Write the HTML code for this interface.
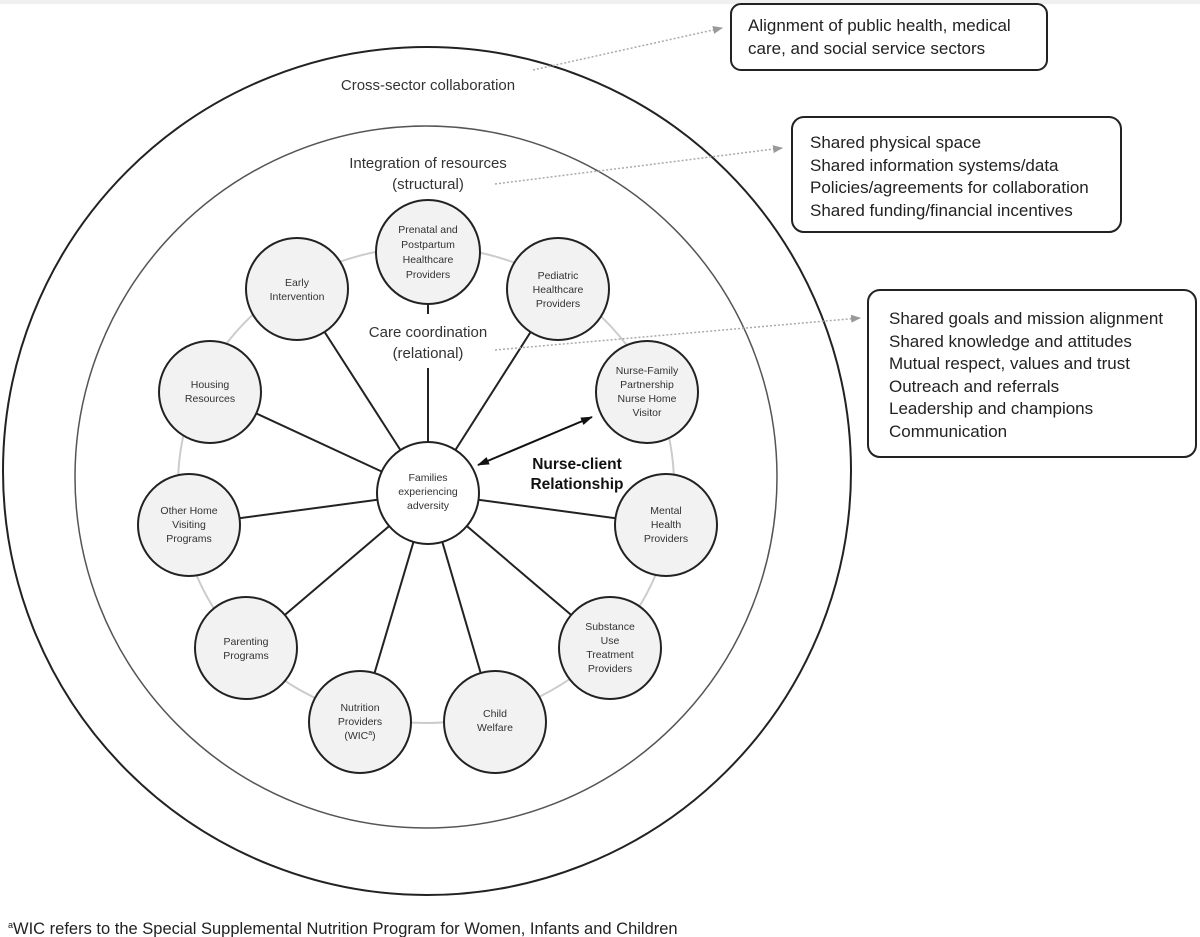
<!DOCTYPE html>
<html><head><meta charset="utf-8"><style>
html,body{margin:0;padding:0;background:#fff;}
svg{display:block}
.n{font-family:"Liberation Sans",sans-serif;font-size:10.5px;fill:#333;text-anchor:middle}
.l{font-family:"Liberation Sans",sans-serif;font-size:15px;fill:#333;text-anchor:middle}
.b{font-family:"Liberation Sans",sans-serif;font-size:17px;fill:#222}
</style></head><body>
<svg width="1200" height="937" viewBox="0 0 1200 937" xmlns="http://www.w3.org/2000/svg">
<defs>
<marker id="ga" markerWidth="10" markerHeight="10" refX="9" refY="5" orient="auto" markerUnits="userSpaceOnUse"><path d="M0,1 L10,5 L0,9 z" fill="#999"/></marker>
<marker id="ba" markerWidth="12" markerHeight="10" refX="11" refY="5" orient="auto-start-reverse" markerUnits="userSpaceOnUse"><path d="M0,1 L12,5 L0,9 z" fill="#111"/></marker>
</defs>
<rect x="0" y="0" width="1200" height="4" fill="#eef0f2"/>
<circle cx="427" cy="471" r="424" fill="none" stroke="#222" stroke-width="2"/>
<circle cx="426" cy="477" r="351" fill="none" stroke="#555" stroke-width="1.5"/>
<ellipse cx="426" cy="485" rx="248" ry="238" fill="none" stroke="#ccc" stroke-width="2"/>
<g stroke="#222" stroke-width="2">
<line x1="428" y1="304" x2="428" y2="314"/>
<line x1="428" y1="368" x2="428" y2="443"/>
<line x1="428" y1="493" x2="297" y2="289"/>
<line x1="428" y1="493" x2="558" y2="289"/>
<line x1="428" y1="493" x2="210" y2="392"/>
<line x1="428" y1="493" x2="189" y2="525"/>
<line x1="428" y1="493" x2="666" y2="525"/>
<line x1="428" y1="493" x2="246" y2="648"/>
<line x1="428" y1="493" x2="610" y2="648"/>
<line x1="428" y1="493" x2="360" y2="722"/>
<line x1="428" y1="493" x2="495" y2="722"/>
</g>
<g fill="#f2f2f2" stroke="#222" stroke-width="2">
<circle cx="428" cy="252" r="52"/>
<circle cx="297" cy="289" r="51"/>
<circle cx="558" cy="289" r="51"/>
<circle cx="210" cy="392" r="51"/>
<circle cx="647" cy="392" r="51"/>
<circle cx="189" cy="525" r="51"/>
<circle cx="666" cy="525" r="51"/>
<circle cx="246" cy="648" r="51"/>
<circle cx="610" cy="648" r="51"/>
<circle cx="360" cy="722" r="51"/>
<circle cx="495" cy="722" r="51"/>
<circle cx="428" cy="493" r="51" fill="#fff"/>
</g>
<line x1="478" y1="465" x2="592" y2="417" stroke="#111" stroke-width="2" marker-start="url(#ba)" marker-end="url(#ba)"/>
<g class="n">
<text x="428" y="233">Prenatal and</text><text x="428" y="248">Postpartum</text><text x="428" y="263">Healthcare</text><text x="428" y="278">Providers</text>
<text x="297" y="286">Early</text><text x="297" y="300">Intervention</text>
<text x="558" y="279">Pediatric</text><text x="558" y="293">Healthcare</text><text x="558" y="307">Providers</text>
<text x="210" y="388">Housing</text><text x="210" y="402">Resources</text>
<text x="647" y="374">Nurse-Family</text><text x="647" y="388">Partnership</text><text x="647" y="402">Nurse Home</text><text x="647" y="416">Visitor</text>
<text x="428" y="481">Families</text><text x="428" y="495">experiencing</text><text x="428" y="509">adversity</text>
<text x="189" y="514">Other Home</text><text x="189" y="528">Visiting</text><text x="189" y="542">Programs</text>
<text x="666" y="514">Mental</text><text x="666" y="528">Health</text><text x="666" y="542">Providers</text>
<text x="246" y="645">Parenting</text><text x="246" y="659">Programs</text>
<text x="610" y="630">Substance</text><text x="610" y="644">Use</text><text x="610" y="658">Treatment</text><text x="610" y="672">Providers</text>
<text x="360" y="711">Nutrition</text><text x="360" y="725">Providers</text><text x="360" y="739">(WIC<tspan font-size="7" dy="-4">a</tspan><tspan dy="4">)</tspan></text>
<text x="495" y="717">Child</text><text x="495" y="731">Welfare</text>
</g>
<g class="l">
<text x="428" y="90">Cross-sector collaboration</text>
<text x="428" y="168">Integration of resources</text>
<text x="428" y="189">(structural)</text>
<text x="428" y="337">Care coordination</text>
<text x="428" y="358">(relational)</text>
</g>
<text x="577" y="469" font-family="Liberation Sans,sans-serif" font-size="15.5" font-weight="bold" fill="#111" text-anchor="middle">Nurse-client</text>
<text x="577" y="489" font-family="Liberation Sans,sans-serif" font-size="15.5" font-weight="bold" fill="#111" text-anchor="middle">Relationship</text>
<g stroke="#aaa" stroke-width="1.5" stroke-dasharray="2,2" fill="none">
<line x1="533" y1="70" x2="722" y2="28" marker-end="url(#ga)"/>
<line x1="495" y1="184" x2="782" y2="148" marker-end="url(#ga)"/>
<line x1="495" y1="350" x2="860" y2="318" marker-end="url(#ga)"/>
</g>
<g fill="#fff" stroke="#222" stroke-width="2">
<rect x="731" y="4" width="316" height="66" rx="10"/>
<rect x="792" y="117" width="329" height="115" rx="12"/>
<rect x="868" y="290" width="328" height="167" rx="12"/>
</g>
<g class="b">
<text x="748" y="31">Alignment of public health, medical</text>
<text x="748" y="54">care, and social service sectors</text>
<text x="810" y="148">Shared physical space</text>
<text x="810" y="171">Shared information systems/data</text>
<text x="810" y="193">Policies/agreements for collaboration</text>
<text x="810" y="216">Shared funding/financial incentives</text>
<text x="889" y="324">Shared goals and mission alignment</text>
<text x="889" y="347">Shared knowledge and attitudes</text>
<text x="889" y="369">Mutual respect, values and trust</text>
<text x="889" y="392">Outreach and referrals</text>
<text x="889" y="414">Leadership and champions</text>
<text x="889" y="437">Communication</text>
</g>
<text x="8" y="934" font-family="Liberation Sans,sans-serif" font-size="16.5" fill="#222"><tspan font-size="9" dy="-6">a</tspan><tspan dy="6">WIC refers to the Special Supplemental Nutrition Program for Women, Infants and Children</tspan></text>
</svg>
</body></html>
